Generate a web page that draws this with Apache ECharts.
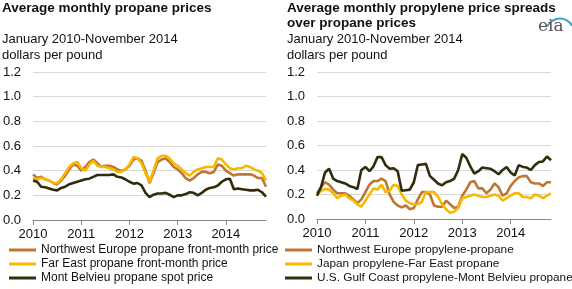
<!DOCTYPE html>
<html>
<head>
<meta charset="utf-8">
<script src="https://cdn.jsdelivr.net/npm/echarts@6/dist/echarts.min.js"></script>
<style>
  html, body { margin: 0; padding: 0; background: #fff; }
  #chart { width: 572px; height: 289px; }
</style>
</head>
<body>
<div id="chart"></div>
<script>
// monthly, Jan 2010 - Nov 2014
const years = ['2010', '2011', '2012', '2013', '2014'];
const months = [];
for (let i = 0; i < 59; i++) {
  months.push(years[Math.floor(i / 12)] + '-' + String(i % 12 + 1).padStart(2, '0'));
}

// left panel: propane prices
const nwEuropePropane = [
  0.37, 0.34, 0.35, 0.33, 0.32, 0.30, 0.29, 0.32, 0.36, 0.41, 0.45, 0.44,
  0.40, 0.43, 0.47, 0.49, 0.46, 0.43, 0.44, 0.44, 0.43, 0.41, 0.40, 0.41,
  0.44, 0.49, 0.50, 0.48, 0.40, 0.30, 0.38, 0.47, 0.49, 0.50, 0.47, 0.43,
  0.41, 0.38, 0.34, 0.32, 0.34, 0.37, 0.39, 0.39, 0.38, 0.39, 0.45, 0.44,
  0.40, 0.38, 0.36, 0.37, 0.37, 0.37, 0.37, 0.36, 0.34, 0.34, 0.27
];
const farEastPropane = [
  0.34, 0.33, 0.34, 0.33, 0.32, 0.30, 0.30, 0.33, 0.38, 0.43, 0.46, 0.47,
  0.42, 0.40, 0.45, 0.48, 0.44, 0.43, 0.43, 0.42, 0.41, 0.39, 0.39, 0.41,
  0.45, 0.51, 0.50, 0.46, 0.38, 0.31, 0.40, 0.50, 0.52, 0.52, 0.50, 0.46,
  0.44, 0.41, 0.38, 0.36, 0.39, 0.41, 0.42, 0.43, 0.43, 0.43, 0.50, 0.49,
  0.45, 0.42, 0.41, 0.42, 0.42, 0.44, 0.43, 0.41, 0.40, 0.38, 0.32
];
const montBelvieuPropane = [
  0.32, 0.31, 0.27, 0.265, 0.255, 0.245, 0.24, 0.26, 0.27, 0.29, 0.30, 0.31,
  0.32, 0.33, 0.335, 0.35, 0.365, 0.365, 0.365, 0.365, 0.37, 0.35, 0.345, 0.33,
  0.31, 0.295, 0.30, 0.28, 0.22, 0.185, 0.205, 0.215, 0.215, 0.22, 0.205, 0.185,
  0.20, 0.20, 0.21, 0.225, 0.22, 0.20, 0.22, 0.245, 0.26, 0.265, 0.28, 0.31,
  0.33, 0.335, 0.25, 0.255, 0.25, 0.245, 0.24, 0.24, 0.245, 0.225, 0.19
];

// right panel: propylene spreads over propane
const nwEuropeSpread = [
  0.21, 0.26, 0.30, 0.28, 0.24, 0.21, 0.21, 0.21, 0.19, 0.16, 0.13, 0.16,
  0.22, 0.28, 0.31, 0.31, 0.33, 0.31, 0.20, 0.14, 0.11, 0.095, 0.11, 0.08,
  0.09, 0.16, 0.22, 0.22, 0.20, 0.11, 0.10, 0.10, 0.15, 0.12, 0.09, 0.10,
  0.19, 0.24, 0.30, 0.31, 0.25, 0.25, 0.21, 0.24, 0.29, 0.26, 0.19, 0.21,
  0.27, 0.31, 0.34, 0.35, 0.35, 0.30, 0.29, 0.29, 0.27, 0.30, 0.30
];
const japanSpread = [
  0.20, 0.23, 0.245, 0.24, 0.21, 0.17, 0.19, 0.20, 0.17, 0.15, 0.12, 0.10,
  0.15, 0.20, 0.25, 0.24, 0.28, 0.22, 0.23, 0.28, 0.27, 0.20, 0.15, 0.13,
  0.12, 0.12, 0.14, 0.22, 0.22, 0.22, 0.18, 0.12, 0.08, 0.05, 0.06, 0.09,
  0.17, 0.18, 0.19, 0.20, 0.19, 0.18, 0.18, 0.19, 0.20, 0.19, 0.15, 0.17,
  0.19, 0.21, 0.21, 0.18, 0.18, 0.17, 0.20, 0.19, 0.17, 0.19, 0.21
];
const gulfCoastSpread = [
  0.19, 0.26, 0.38, 0.41, 0.33, 0.31, 0.30, 0.29, 0.27, 0.26, 0.245, 0.40,
  0.425, 0.39, 0.43, 0.505, 0.505, 0.44, 0.41, 0.415, 0.39, 0.23, 0.235, 0.24,
  0.30, 0.44, 0.445, 0.45, 0.35, 0.32, 0.29, 0.275, 0.30, 0.31, 0.33, 0.40,
  0.53, 0.50, 0.43, 0.37, 0.39, 0.42, 0.415, 0.41, 0.39, 0.365, 0.40, 0.425,
  0.38, 0.355, 0.44, 0.425, 0.42, 0.40, 0.44, 0.465, 0.47, 0.51, 0.48
];

const ORANGE = '#bf7634';
const YELLOW = '#f7b800';
const DARK = '#302c0c';
const FONT = '"Liberation Sans", Arial, sans-serif';

const chart = echarts.init(document.getElementById('chart'), null, { renderer: 'canvas' });

const yearTick = (idx) => idx % 12 === 0;

function xAxis(gridIndex) {
  return {
    type: 'category',
    gridIndex,
    data: months,
    boundaryGap: false,
    axisLine: { lineStyle: { color: '#888', width: 1 } },
    axisTick: { interval: yearTick, length: 5, lineStyle: { color: '#888' } },
    axisLabel: {
      interval: yearTick,
      formatter: (v) => v.slice(0, 4),
      color: '#111', fontSize: 13, fontFamily: FONT, margin: 8
    },
    splitLine: { show: false }
  };
}

function yAxis(gridIndex) {
  return {
    type: 'value',
    gridIndex,
    min: 0, max: 1.2, interval: 0.2,
    axisLine: { show: false },
    axisTick: { show: false },
    axisLabel: {
      formatter: (v) => v.toFixed(1),
      color: '#111', fontSize: 13, fontFamily: FONT, margin: 12
    },
    splitLine: { lineStyle: { color: '#d9d9d9', width: 1 } }
  };
}

function line(name, data, color, idx) {
  return {
    name, type: 'line', data,
    xAxisIndex: idx, yAxisIndex: idx,
    symbol: 'none',
    lineStyle: { color, width: 2.6 },
    itemStyle: { color },
    animation: false
  };
}

// one legend per row so rows never wrap into columns
function legendRow(left, top, name, size) {
  return {
    left, top,
    padding: 0,
    icon: 'rect',
    itemWidth: 27, itemHeight: 3,
    textStyle: { color: '#111', fontSize: size, fontFamily: FONT },
    data: [name]
  };
}

const leftNames = ['Northwest Europe propane front-month price', 'Far East propane front-month price', 'Mont Belvieu propane spot price'];
const rightNames = ['Northwest Europe propylene-propane', 'Japan propylene-Far East propane', 'U.S. Gulf Coast propylene-Mont Belvieu propane'];

const titleText = { color: '#111', fontSize: 13.5, fontWeight: 'bold', fontFamily: FONT, lineHeight: 15 };
const subText = { color: '#111', fontSize: 13, fontWeight: 'normal', fontFamily: FONT, lineHeight: 16 };

const option = {
  backgroundColor: '#fff',
  animation: false,
  title: [
    { text: 'Average monthly propane prices', left: 2, top: 1, padding: 0, textStyle: titleText },
    { text: 'January 2010-November 2014\ndollars per pound', left: 2, top: 31, padding: 0, textStyle: subText },
    { text: 'Average monthly propylene price spreads\nover propane prices', left: 287, top: 1, padding: 0, textStyle: titleText },
    { text: 'January 2010-November 2014\ndollars per pound', left: 287, top: 31, padding: 0, textStyle: subText }
  ],
  grid: [
    { left: 32, top: 72, width: 234, height: 148, containLabel: false },
    { left: 317, top: 72, width: 234, height: 147, containLabel: false }
  ],
  xAxis: [xAxis(0), xAxis(1)],
  yAxis: [yAxis(0), yAxis(1)],
  legend: [
    legendRow(9, 244, leftNames[0], 12),
    legendRow(9, 258, leftNames[1], 12),
    legendRow(9, 272, leftNames[2], 12),
    legendRow(285, 244, rightNames[0], 11.8),
    legendRow(285, 258, rightNames[1], 11.8),
    legendRow(285, 272, rightNames[2], 11.8)
  ],
  series: [
    line(leftNames[0], nwEuropePropane, ORANGE, 0),
    line(leftNames[1], farEastPropane, YELLOW, 0),
    line(leftNames[2], montBelvieuPropane, DARK, 0),
    line(rightNames[0], nwEuropeSpread, ORANGE, 1),
    line(rightNames[1], japanSpread, YELLOW, 1),
    line(rightNames[2], gulfCoastSpread, DARK, 1)
  ],
  graphic: [
    {
      type: 'arc', left: 545, top: 16,
      shape: { cx: 0, cy: 0, r: 14, startAngle: Math.PI * 1.15, endAngle: Math.PI * 1.85 },
      style: { stroke: '#3aa0d8', lineWidth: 2, fill: null }
    },
    {
      type: 'text', left: 538, top: 18,
      style: { text: 'eia', font: '17px "DejaVu Serif", serif', fill: '#555' }
    }
  ]
};

chart.setOption(option);
</script>
</body>
</html>
